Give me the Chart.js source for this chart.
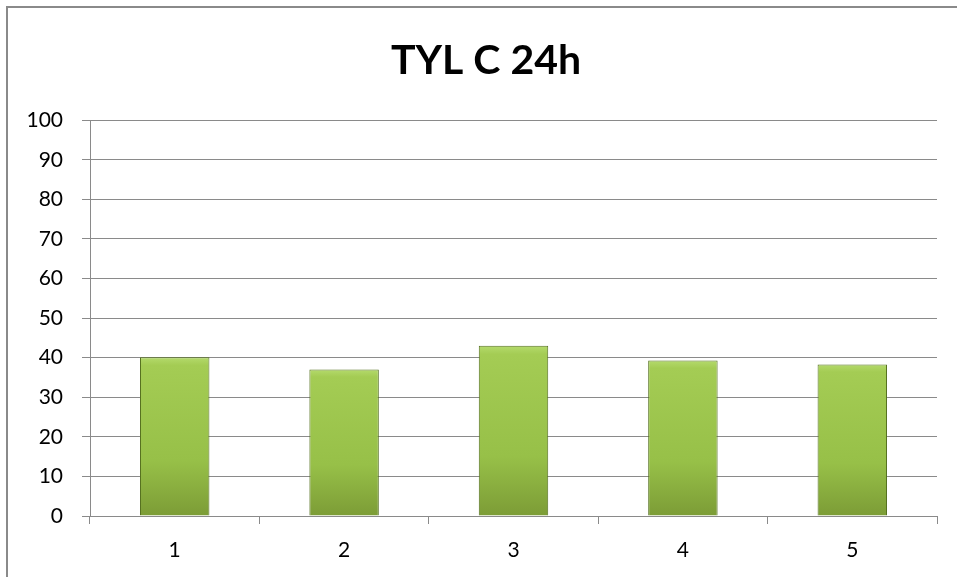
<!DOCTYPE html>
<html>
<head>
<meta charset="utf-8">
<script src="https://cdn.jsdelivr.net/npm/chart.js@4.4.0/dist/chart.umd.min.js"></script>
<style>
  html, body { margin: 0; padding: 0; background: #fff; overflow: hidden; }
  #wrap { position: relative; width: 957px; height: 577px; }
  #frame {
    position: absolute; left: 6px; top: 6px; width: 1000px; height: 1000px;
    border: 2px solid #8a8a8a; pointer-events: none; box-sizing: border-box;
  }
</style>
</head>
<body>
<div id="wrap">
  <canvas id="tylChart" width="957" height="577"></canvas>
  <div id="frame"></div>
</div>
<script>
// data
const chartTitle = "TYL C 24h";
const categories = ["1", "2", "3", "4", "5"];
const values = [40.1, 37.0, 43.0, 39.3, 38.3];
const yTicks = [0, 10, 20, 30, 40, 50, 60, 70, 80, 90, 100];

Chart.defaults.font.family = "Lato, 'Open Sans', sans-serif";
Chart.defaults.color = "#000";

// green bevel-ish fill, worked out per bar from the y scale
function barFill(ctx) {
    const chart = ctx.chart;
    const y = chart.scales.y;
    if (!chart.chartArea || !y || !ctx.parsed) return "#98c048";
    const top = y.getPixelForValue(ctx.parsed.y);
    const bottom = y.getPixelForValue(0);
    if (!isFinite(top) || !isFinite(bottom)) return "#98c048";
    const g = chart.ctx.createLinearGradient(0, top, 0, bottom);
    g.addColorStop(0, "#b4da6c");
    g.addColorStop(0.05, "#a4cc54");
    g.addColorStop(0.65, "#97c048");
    g.addColorStop(1, "#7c9c36");
    return g;
}

// the original chart is wider than the window, so its title sits right of centre
const titleShift = {
    id: "titleShift",
    afterLayout(chart) {
        if (chart.titleBlock) chart.titleBlock.left += 35;
    }
};

const ctx = document.getElementById("tylChart");

new Chart(ctx, {
    type: "bar",
    data: {
        labels: categories,
        datasets: [{
            data: values,
            backgroundColor: barFill,
            borderColor: "#55701f",
            borderWidth: 1,
            barPercentage: 0.41,
            categoryPercentage: 1
        }]
    },
    plugins: [titleShift],
    options: {
        responsive: false,
        animation: false,
        layout: { padding: { left: 0, right: 20, top: 0, bottom: 0 } },
        plugins: {
            legend: { display: false },
            tooltip: { enabled: false },
            title: {
                display: true,
                text: chartTitle,
                font: { size: 41, weight: "bold" },
                lineHeight: 1.2,
                padding: { top: 36, bottom: 35 }
            }
        },
        scales: {
            x: {
                offset: true,
                afterFit: (scale) => { scale.height = 61; },
                grid: {
                    offset: true,
                    drawOnChartArea: false,
                    tickLength: 8,
                    color: "#8a8a8a"
                },
                border: { color: "#8a8a8a", width: 1 },
                ticks: { font: { size: 21 }, padding: 14 }
            },
            y: {
                min: 0,
                max: 100,
                afterFit: (scale) => { scale.width = 90; },
                afterBuildTicks: (scale) => {
                    scale.ticks = yTicks.map(v => ({ value: v }));
                },
                grid: { color: "#8a8a8a", tickLength: 8 },
                border: { color: "#8a8a8a", width: 1 },
                ticks: { font: { size: 21 }, padding: 19 }
            }
        }
    }
});
</script>
</body>
</html>
